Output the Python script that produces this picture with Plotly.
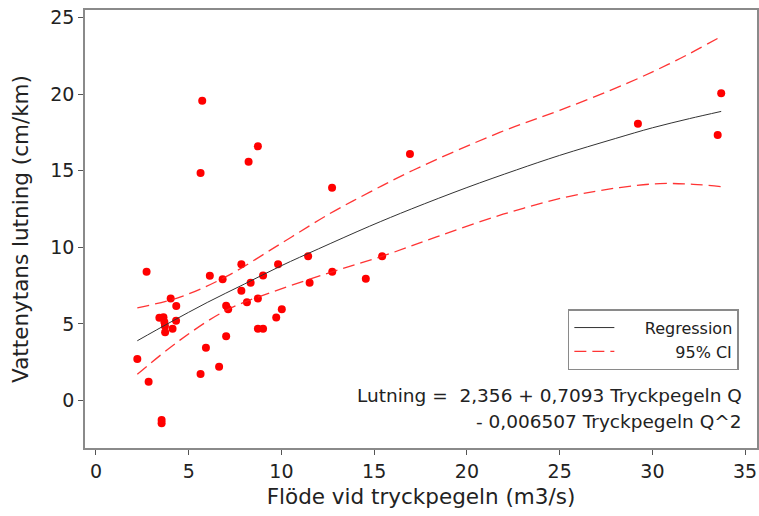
import plotly.graph_objects as go

flow = [2.73, 2.23, 2.84, 3.54, 3.54, 4.03, 4.33, 3.42, 3.64, 3.69, 3.72, 3.73,
        4.13, 4.32, 5.64, 5.93, 6.64, 6.14, 6.83, 7.02, 7.13, 7.02, 7.84, 7.84,
        8.34, 8.14, 8.73, 8.73, 9.01, 9.01, 9.82, 9.72, 10.02, 11.44, 11.52,
        12.73, 12.74, 14.55, 15.43, 16.93, 5.73, 8.73, 8.23, 5.64, 29.22, 33.71, 33.52]
slope = [8.40, 2.71, 1.23, -1.27, -1.49, 6.66, 6.17, 5.41, 5.44, 5.12, 4.86, 4.45,
         4.68, 5.20, 1.73, 3.44, 2.20, 8.14, 7.92, 6.18, 5.95, 4.20, 8.90, 7.17,
         7.68, 6.42, 6.66, 4.69, 4.69, 8.16, 8.90, 5.42, 5.95, 9.41, 7.68,
         13.88, 8.40, 7.94, 9.42, 16.09, 19.57, 16.59, 15.59, 14.85, 18.07, 20.05, 17.33]

# Regression curve
reg_x = [2.23, 4, 6, 8, 10, 12, 14.76, 17, 20, 22.67, 25, 28, 30, 32, 33.71]
reg_y = [3.9, 5.1, 6.4, 7.6, 8.8, 9.9, 11.38, 12.5, 13.9, 15.05, 16.0, 17.1, 17.8, 18.4, 18.87]

# 95% CI bands
ci_up_x = [2.23, 4.53, 7.04, 9.91, 12.61, 14.76, 17.1, 21.77, 25.0, 28.59, 31.29, 33.71]
ci_up_y = [6.05, 6.75, 8.1, 10.2, 12.2, 13.6, 15.03, 17.5, 18.94, 20.68, 22.2, 23.76]
ci_lo_x = [2.23, 4.53, 7.04, 9.91, 12.74, 15.44, 18.36, 21.95, 25.54, 28.23, 30.4, 32.2, 33.71]
ci_lo_y = [1.71, 3.94, 5.9, 7.25, 8.4, 9.42, 10.68, 12.16, 13.33, 13.9, 14.16, 14.11, 13.96]

x_ticks = [0, 5, 10, 15, 20, 25, 30, 35]
y_ticks = [0, 5, 10, 15, 20, 25]

FONT = "DejaVu Sans"
RED_CI = "rgba(255,30,30,0.9)"
NB = "\u00a0"

fig = go.Figure()
fig.add_trace(go.Scatter(x=flow, y=slope, mode="markers",
                         marker=dict(color="#ff0000", size=8),
                         showlegend=False, hoverinfo="x+y"))
fig.add_trace(go.Scatter(x=reg_x, y=reg_y, mode="lines", name=NB * 5 + "Regression",
                         line=dict(color="#333333", width=1, shape="spline")))
fig.add_trace(go.Scatter(x=ci_up_x, y=ci_up_y, mode="lines",
                         name=NB * 11 + "95% CI",
                         line=dict(color=RED_CI, width=1.3, dash="12px,6px", shape="spline")))
fig.add_trace(go.Scatter(x=ci_lo_x, y=ci_lo_y, mode="lines", showlegend=False,
                         line=dict(color=RED_CI, width=1.3, dash="12px,6px", shape="spline")))

axis_common = dict(showline=True, linecolor="#8a8a8a", linewidth=1.5, mirror=True,
                   ticks="outside", ticklen=5, tickcolor="#555", showgrid=False,
                   zeroline=False, automargin=False, ticklabeloverflow="allow",
                   tickfont=dict(family=FONT, size=19, color="#222"))

fig.update_xaxes(range=[-0.59, 35.64], tickvals=x_ticks,
                 title=dict(text="Flöde vid tryckpegeln (m3/s)",
                            font=dict(family=FONT, size=21.5, color="#222"), standoff=8),
                 **axis_common)
fig.update_yaxes(range=[-3.1, 25.49], tickvals=y_ticks,
                 title=dict(text="Vattenytans lutning (cm/km)",
                            font=dict(family=FONT, size=21.5, color="#222"), standoff=16),
                 **axis_common)

fig.add_annotation(xref="paper", yref="paper", x=0.98, y=0.121, xanchor="right",
                   yanchor="middle", showarrow=False,
                   text="Lutning =" + NB * 2 + "2,356 + 0,7093 Tryckpegeln Q",
                   font=dict(family=FONT, size=18.5, color="#222"))
fig.add_annotation(xref="paper", yref="paper", x=0.98, y=0.060, xanchor="right",
                   yanchor="middle", showarrow=False,
                   text="- 0,006507 Tryckpegeln Q^2",
                   font=dict(family=FONT, size=18.5, color="#222"))

fig.update_layout(
    width=759, height=516,
    margin=dict(l=85, r=1.5, t=10, b=68),
    plot_bgcolor="white", paper_bgcolor="white",
    legend=dict(x=0.973, y=0.317, xanchor="right", yanchor="top",
                bordercolor="#8a8a8a", borderwidth=1.5, bgcolor="white",
                font=dict(family=FONT, size=16, color="#222"),
                tracegroupgap=0, itemwidth=40),
)

fig.write_html("out.html", config={"displayModeBar": False},
               post_script="document.body.style.margin='0';document.body.style.overflow='hidden';")
